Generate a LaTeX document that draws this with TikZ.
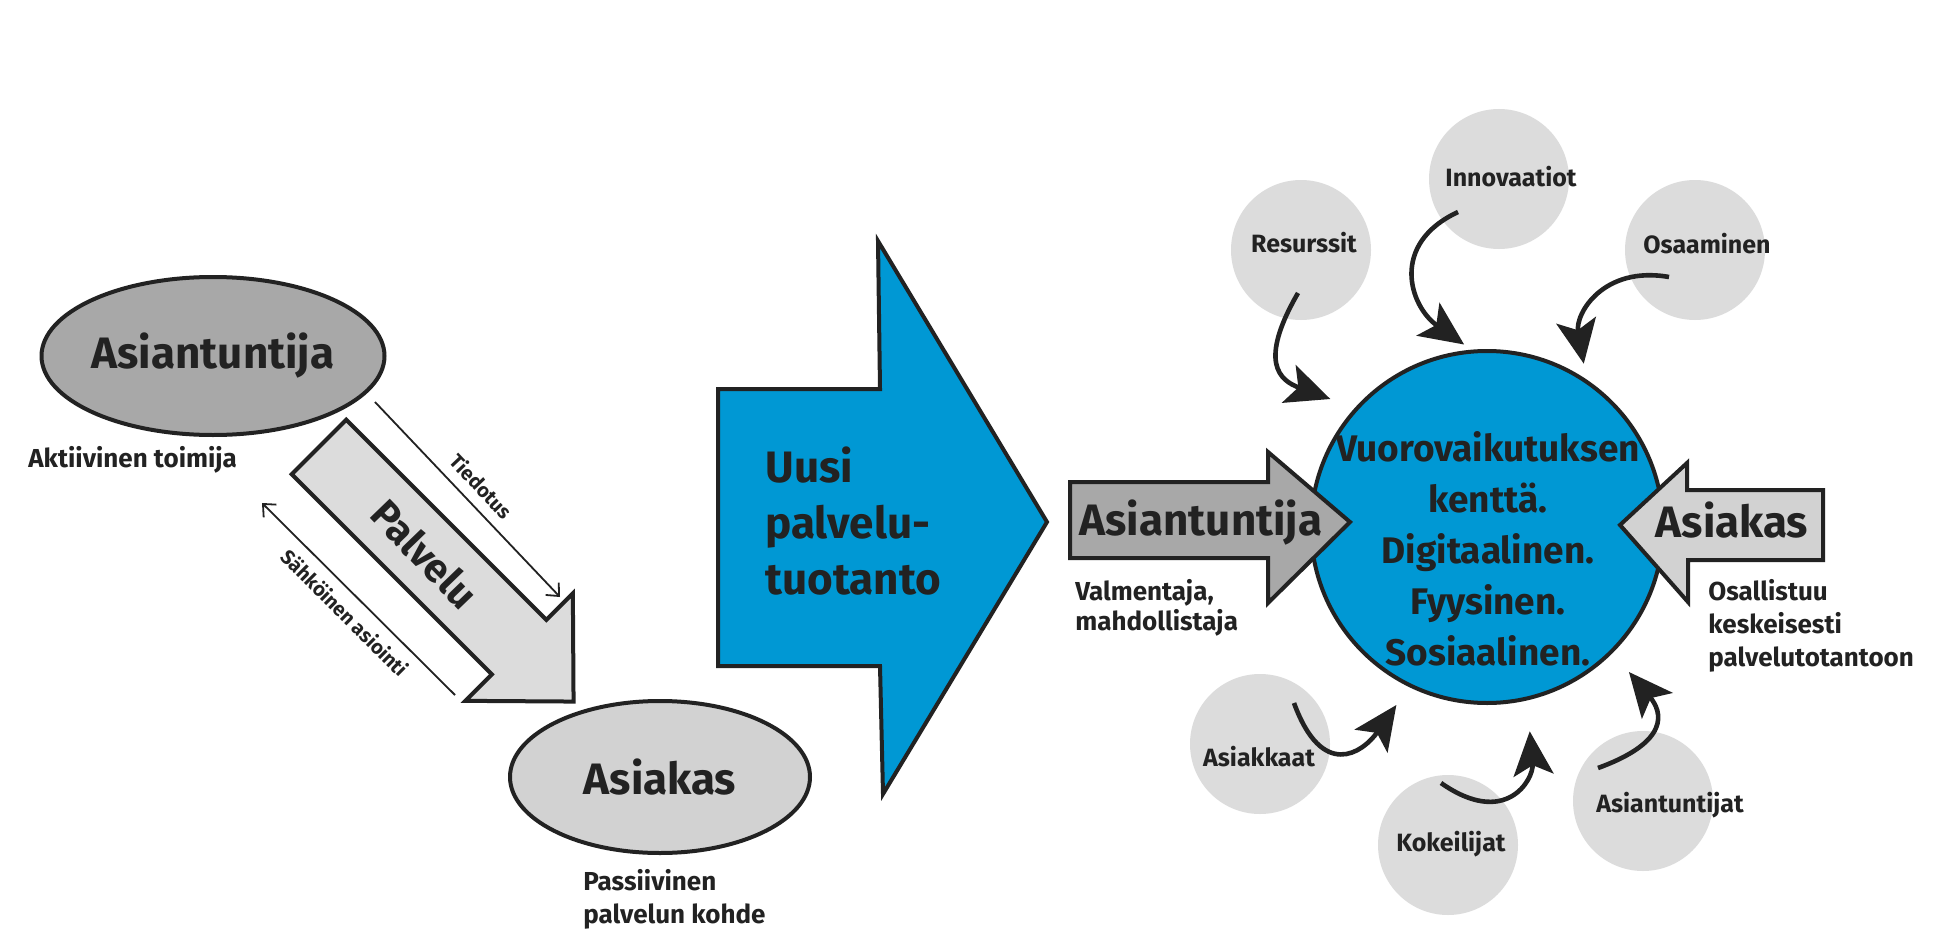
\documentclass[tikz,border=0pt]{standalone}
\usepackage{fontspec}
\setmainfont{Fira Sans}
\usetikzlibrary{arrows.meta,shapes.geometric}
\definecolor{ink}{HTML}{222222}
\definecolor{bluef}{HTML}{0098D4}
\definecolor{grayA}{HTML}{A8A8A8}
\definecolor{grayB}{HTML}{D2D2D2}
\definecolor{grayC}{HTML}{DCDCDC}
\begin{document}
\begin{tikzpicture}[x=0.5pt,y=0.5pt,
  outline/.style={draw=ink,line width=2pt,line join=miter},
  ell/.style={ellipse,outline,inner sep=0pt,font=\bfseries\fontsize{22}{26}\selectfont,text=ink},
  big/.style={inner sep=0pt,font=\bfseries\fontsize{22}{28}\selectfont,text=ink},
  note/.style={inner sep=0pt,align=left,font=\bfseries\fontsize{13}{16}\selectfont,text=ink},
  blob/.style={circle,fill=grayC,minimum size=70pt,inner sep=0pt},
  blobtxt/.style={inner sep=0pt,font=\bfseries\fontsize{12.5}{15}\selectfont,text=ink},
  hairline/.style={draw=ink,line width=0.9pt},
  barb/.style={-{Straight Barb[length=5pt,width=9pt]}},
  flow/.style={draw=ink,line width=2.3pt,-{Stealth[length=22pt,width=20pt,inset=5pt]}}]
  \fill[white] (0,0) rectangle (1944,-931);
  \useasboundingbox (0,0) rectangle (1944,-931);

  \node[ell,fill=grayA,minimum width=148pt,minimum height=79pt] (expert) at (213,-356) {Asiantuntija};
  \node[note,anchor=base west] (active) at (28,-467) {Aktiivinen toimija};
  \node[ell,fill=grayB,minimum width=150pt,minimum height=76pt] (client) at (660,-777) {Asiakas};
  \node[note,anchor=base west,font=\bfseries\fontsize{13}{16.5}\selectfont] (passive) at (583,-923) {Passiivinen\\palvelun kohde};

  \begin{scope}[shift={(319,-447)},rotate=-45]
    \draw[outline,fill=grayC] (0,38.5) -- (283,38.5) -- (283,76) -- (360,0) -- (283,-76) -- (283,-38.5) -- (0,-38.5) -- cycle;
  \end{scope}
  \node[big,rotate=-46,font=\bfseries\fontsize{20}{24}\selectfont] (svc) at (425,-554) {Palvelu};
  \coordinate (ti-a) at (375,-402);
  \coordinate (ti-b) at (560,-597);
  \coordinate (sa-a) at (262,-503);
  \coordinate (sa-b) at (455,-695);
  \draw[hairline,barb] (ti-a) -- node[sloped,above=5pt,note,font=\bfseries\fontsize{10}{12}\selectfont] (ti-t) {Tiedotus} (ti-b);
  \draw[hairline,barb] (sa-b) -- node[sloped,below=5pt,note,font=\bfseries\fontsize{10}{12}\selectfont] (sa-t) {Sähköinen asiointi} (sa-a);

  \draw[outline,fill=bluef] (718,-389) -- (880,-389) -- (878,-241) -- (1047,-522) -- (883,-794) -- (880,-666) -- (718,-666) -- cycle;
  \node[big,anchor=base west,align=left] (prod) at (765,-594) {Uusi\\palvelu-\\tuotanto};

  \node[circle,draw=ink,line width=2pt,fill=bluef,minimum size=176pt,inner sep=0pt] (field) at (1487,-527) {};
  \node[big,anchor=base,align=center,font=\bfseries\fontsize{18.5}{25.5}\selectfont] (field-t) at (1488,-665) {Vuorovaikutuksen\\kenttä.\\Digitaalinen.\\Fyysinen.\\Sosiaalinen.};

  \draw[outline,fill=grayA] (1070,-482) -- (1268,-482) -- (1268,-452) -- (1350,-522) -- (1268,-603) -- (1268,-558) -- (1070,-558) -- cycle;
  \node[big,anchor=base] (coach) at (1201,-535) {Asiantuntija};
  \node[note,anchor=base west,font=\bfseries\fontsize{13}{15}\selectfont] (coach-t) at (1075,-630) {Valmentaja,\\mahdollistaja};

  \draw[outline,fill=grayB] (1823,-490) -- (1687,-490) -- (1687,-463) -- (1620,-525) -- (1688,-602) -- (1688,-560) -- (1823,-560) -- cycle;
  \node[big,anchor=base] (user) at (1732,-537) {Asiakas};
  \node[note,anchor=base west,font=\bfseries\fontsize{13}{16.5}\selectfont] (user-t) at (1708,-666) {Osallistuu\\keskeisesti\\palvelutotantoon};

  \node[blob] (res) at (1301,-250) {};
  \node[blob] (inno) at (1499,-179) {};
  \node[blob] (osa) at (1695,-250) {};
  \node[blob] (askt) at (1260,-744) {};
  \node[blob] (kok) at (1448,-845) {};
  \node[blob] (asnt) at (1643,-801) {};
  \node[blobtxt] (res-t) at (1304,-243) {Resurssit};
  \node[blobtxt] (inno-t) at (1511,-177) {Innovaatiot};
  \node[blobtxt] (osa-t) at (1707,-244) {Osaaminen};
  \node[blobtxt] (askt-t) at (1259,-757) {Asiakkaat};
  \node[blobtxt] (kok-t) at (1451,-844) {Kokeilijat};
  \node[blobtxt] (asnt-t) at (1670,-805) {Asiantuntijat};

  \coordinate (res-s) at (1298,-293);
  \coordinate (inno-s) at (1458,-212);
  \coordinate (osa-s) at (1669,-277);
  \coordinate (askt-s) at (1294,-703);
  \coordinate (kok-s) at (1441,-783);
  \coordinate (asnt-s) at (1598,-768);
  \draw[flow,shorten >=13pt] (res-s) to[out=240,in=160,looseness=1.6] (field.138);
  \draw[flow,shorten >=4.5pt] (inno-s) to[out=205,in=145,looseness=1.4] (field.95);
  \draw[flow,shorten >=8pt] (osa-s) to[out=170,in=100,looseness=1.3] (field.56);
  \draw[flow,shorten >=11pt] (askt-s) to[out=-70,in=235,looseness=1.8] (field.244);
  \draw[flow,shorten >=15.5pt] (kok-s) to[out=-35,in=-85,looseness=1.7] (field.283);
  \draw[flow,shorten >=12.5pt] (asnt-s) to[out=20,in=-50,looseness=1.7] (field.315);
\end{tikzpicture}
\end{document}
